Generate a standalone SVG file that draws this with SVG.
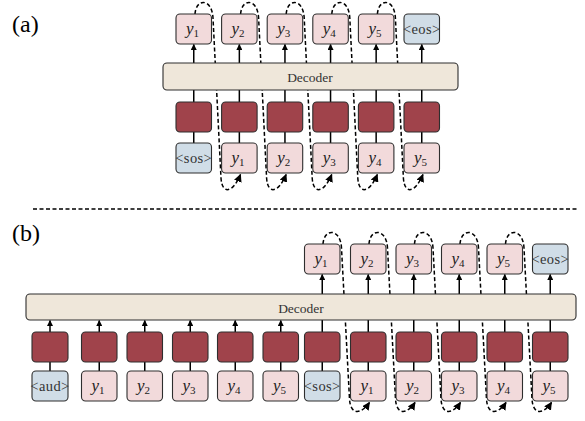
<svg xmlns="http://www.w3.org/2000/svg" width="585" height="421" viewBox="0 0 585 421">
<defs>
<style>
.bx{stroke:#2e2e2e;stroke-width:1.1}
.pk{fill:#f2dadb}
.bl{fill:#d0dde7}
.rd{fill:#a0434b}
.dec{fill:#efe7da;stroke:#2e2e2e;stroke-width:1.1}
.ln{stroke:#000;stroke-width:1.5;fill:none}
.ds{stroke:#000;stroke-width:1.5;fill:none;stroke-dasharray:4 2.5}
.t{font-family:"Liberation Serif","Times New Roman",serif;fill:#333}
.tk{font-family:"Liberation Serif","Times New Roman",serif;font-size:14.5px;letter-spacing:0.4px;fill:#333;text-anchor:middle}
.y{font-family:"Liberation Serif","Times New Roman",serif;font-size:17px;fill:#222;text-anchor:middle}
.lbl{font-family:"Liberation Serif","Times New Roman",serif;font-size:24px;fill:#000}
</style>
<marker id="ah" viewBox="0 0 10 10" refX="9" refY="5" markerWidth="6" markerHeight="6" markerUnits="userSpaceOnUse" orient="auto">
<path d="M0,0 L10,5 L0,10 z" fill="#000"/>
</marker>
<marker id="ah2" viewBox="0 0 10 10" refX="9" refY="5" markerWidth="8" markerHeight="8" markerUnits="userSpaceOnUse" orient="auto">
<path d="M0,0 L10,5 L0,10 z" fill="#000"/>
</marker>
</defs>

<text class="lbl" x="12" y="32">(a)</text>
<text class="lbl" x="12" y="241">(b)</text>
<line x1="33" y1="209" x2="578" y2="209" stroke="#000" stroke-width="1.5" stroke-dasharray="4 2.5"/>

<g id="connectors">
<g>
<line class="ln" x1="193.75" y1="63" x2="193.75" y2="44.5" marker-end="url(#ah)"/>
<line class="ln" x1="239.35" y1="63" x2="239.35" y2="44.5" marker-end="url(#ah)"/>
<line class="ln" x1="284.95" y1="63" x2="284.95" y2="44.5" marker-end="url(#ah)"/>
<line class="ln" x1="330.55" y1="63" x2="330.55" y2="44.5" marker-end="url(#ah)"/>
<line class="ln" x1="376.15" y1="63" x2="376.15" y2="44.5" marker-end="url(#ah)"/>
<line class="ln" x1="421.75" y1="63" x2="421.75" y2="44.5" marker-end="url(#ah)"/>
<path class="ln" d="M193.75,90V102M239.35,90V102M284.95,90V102M330.55,90V102M376.15,90V102M421.75,90V102"/>
<path class="ln" d="M193.75,132V143M239.35,132V143M284.95,132V143M330.55,132V143M376.15,132V143M421.75,132V143"/>
</g>
<g>
<path class="ds" d="M195,14 C196,-2 212,-2 213,18 L221,178 C222,195 233,193 240.5,174.5" marker-end="url(#ah2)"/>
<path class="ds" d="M240.6,14 C241.6,-2 257.6,-2 258.6,18 L266.6,178 C267.6,195 278.6,193 286.1,174.5" marker-end="url(#ah2)"/>
<path class="ds" d="M286.2,14 C287.2,-2 303.2,-2 304.2,18 L312.2,178 C313.2,195 324.2,193 331.7,174.5" marker-end="url(#ah2)"/>
<path class="ds" d="M331.8,14 C332.8,-2 348.8,-2 349.8,18 L357.8,178 C358.8,195 369.8,193 377.3,174.5" marker-end="url(#ah2)"/>
<path class="ds" d="M377.4,14 C378.4,-2 394.4,-2 395.4,18 L403.4,178 C404.4,195 415.4,193 422.9,174.5" marker-end="url(#ah2)"/>
</g>
<g>
<path class="ln" d="M50,362V371M99.25,362V371M144.75,362V371M190.25,362V371M235.25,362V371M280.75,362V371M322.25,362V371M368.25,362V371M413.75,362V371M459.25,362V371M504.75,362V371M550.25,362V371"/>
<line class="ln" x1="50" y1="332" x2="50" y2="320.5" marker-end="url(#ah)"/>
<line class="ln" x1="99.25" y1="332" x2="99.25" y2="320.5" marker-end="url(#ah)"/>
<line class="ln" x1="144.75" y1="332" x2="144.75" y2="320.5" marker-end="url(#ah)"/>
<line class="ln" x1="190.25" y1="332" x2="190.25" y2="320.5" marker-end="url(#ah)"/>
<line class="ln" x1="235.25" y1="332" x2="235.25" y2="320.5" marker-end="url(#ah)"/>
<line class="ln" x1="280.75" y1="332" x2="280.75" y2="320.5" marker-end="url(#ah)"/>
<path class="ln" d="M322.25,332V320M368.25,332V320M413.75,332V320M459.25,332V320M504.75,332V320M550.25,332V320"/>
<line class="ln" x1="322.25" y1="294" x2="322.25" y2="274.5" marker-end="url(#ah)"/>
<line class="ln" x1="368.25" y1="294" x2="368.25" y2="274.5" marker-end="url(#ah)"/>
<line class="ln" x1="413.75" y1="294" x2="413.75" y2="274.5" marker-end="url(#ah)"/>
<line class="ln" x1="459.25" y1="294" x2="459.25" y2="274.5" marker-end="url(#ah)"/>
<line class="ln" x1="504.75" y1="294" x2="504.75" y2="274.5" marker-end="url(#ah)"/>
<line class="ln" x1="550.25" y1="294" x2="550.25" y2="274.5" marker-end="url(#ah)"/>
</g>
<g>
<path class="ds" d="M323,244 C324,228 340.5,228 341.5,248 L349.5,399 C350.5,416 361.5,414 369.5,402.5" marker-end="url(#ah2)"/>
<path class="ds" d="M369,244 C370,228 386.5,228 387.5,248 L395.5,399 C396.5,416 407.5,414 415,402.5" marker-end="url(#ah2)"/>
<path class="ds" d="M414.5,244 C415.5,228 432,228 433,248 L441,399 C442,416 453,414 460.5,402.5" marker-end="url(#ah2)"/>
<path class="ds" d="M460,244 C461,228 477.5,228 478.5,248 L486.5,399 C487.5,416 498.5,414 506,402.5" marker-end="url(#ah2)"/>
<path class="ds" d="M505.5,244 C506.5,228 523,228 524,248 L532,399 C533,416 544,414 551.5,402.5" marker-end="url(#ah2)"/>
</g>
</g>

<g id="a-decoder"><rect class="dec" x="163" y="63" width="295" height="27" rx="4"/><text class="t" x="310" y="82" font-size="13.5" text-anchor="middle">Decoder</text></g>

<g id="a-out1"><rect class="bx pk" x="176" y="14" width="35.5" height="30" rx="4"/><text class="y" x="192.5" y="34"><tspan font-style="italic">y</tspan><tspan font-size="11" dy="3">1</tspan></text></g>
<g id="a-out2"><rect class="bx pk" x="221.6" y="14" width="35.5" height="30" rx="4"/><text class="y" x="238.1" y="34"><tspan font-style="italic">y</tspan><tspan font-size="11" dy="3">2</tspan></text></g>
<g id="a-out3"><rect class="bx pk" x="267.2" y="14" width="35.5" height="30" rx="4"/><text class="y" x="283.7" y="34"><tspan font-style="italic">y</tspan><tspan font-size="11" dy="3">3</tspan></text></g>
<g id="a-out4"><rect class="bx pk" x="312.8" y="14" width="35.5" height="30" rx="4"/><text class="y" x="329.3" y="34"><tspan font-style="italic">y</tspan><tspan font-size="11" dy="3">4</tspan></text></g>
<g id="a-out5"><rect class="bx pk" x="358.4" y="14" width="35.5" height="30" rx="4"/><text class="y" x="374.9" y="34"><tspan font-style="italic">y</tspan><tspan font-size="11" dy="3">5</tspan></text></g>
<g id="a-eos"><rect class="bx bl" x="404" y="14" width="35.5" height="30" rx="4"/><text class="tk" x="421.75" y="33.5">&lt;eos&gt;</text></g>

<g id="a-emb1"><rect class="bx rd" x="176" y="102" width="35.5" height="30" rx="4"/></g>
<g id="a-emb2"><rect class="bx rd" x="221.6" y="102" width="35.5" height="30" rx="4"/></g>
<g id="a-emb3"><rect class="bx rd" x="267.2" y="102" width="35.5" height="30" rx="4"/></g>
<g id="a-emb4"><rect class="bx rd" x="312.8" y="102" width="35.5" height="30" rx="4"/></g>
<g id="a-emb5"><rect class="bx rd" x="358.4" y="102" width="35.5" height="30" rx="4"/></g>
<g id="a-emb6"><rect class="bx rd" x="404" y="102" width="35.5" height="30" rx="4"/></g>

<g id="a-sos"><rect class="bx bl" x="176" y="143" width="35.5" height="30" rx="4"/><text class="tk" x="193.75" y="162.5">&lt;sos&gt;</text></g>
<g id="a-in1"><rect class="bx pk" x="221.6" y="143" width="35.5" height="30" rx="4"/><text class="y" x="238.1" y="163"><tspan font-style="italic">y</tspan><tspan font-size="11" dy="3">1</tspan></text></g>
<g id="a-in2"><rect class="bx pk" x="267.2" y="143" width="35.5" height="30" rx="4"/><text class="y" x="283.7" y="163"><tspan font-style="italic">y</tspan><tspan font-size="11" dy="3">2</tspan></text></g>
<g id="a-in3"><rect class="bx pk" x="312.8" y="143" width="35.5" height="30" rx="4"/><text class="y" x="329.3" y="163"><tspan font-style="italic">y</tspan><tspan font-size="11" dy="3">3</tspan></text></g>
<g id="a-in4"><rect class="bx pk" x="358.4" y="143" width="35.5" height="30" rx="4"/><text class="y" x="374.9" y="163"><tspan font-style="italic">y</tspan><tspan font-size="11" dy="3">4</tspan></text></g>
<g id="a-in5"><rect class="bx pk" x="404" y="143" width="35.5" height="30" rx="4"/><text class="y" x="420.5" y="163"><tspan font-style="italic">y</tspan><tspan font-size="11" dy="3">5</tspan></text></g>

<g id="b-decoder"><rect class="dec" x="26" y="294" width="550" height="26" rx="4"/><text class="t" x="301" y="312.5" font-size="13.5" text-anchor="middle">Decoder</text></g>

<g id="b-out1"><rect class="bx pk" x="304.5" y="244" width="35.5" height="30" rx="4"/><text class="y" x="321" y="264"><tspan font-style="italic">y</tspan><tspan font-size="11" dy="3">1</tspan></text></g>
<g id="b-out2"><rect class="bx pk" x="350.5" y="244" width="35.5" height="30" rx="4"/><text class="y" x="367" y="264"><tspan font-style="italic">y</tspan><tspan font-size="11" dy="3">2</tspan></text></g>
<g id="b-out3"><rect class="bx pk" x="396" y="244" width="35.5" height="30" rx="4"/><text class="y" x="412.5" y="264"><tspan font-style="italic">y</tspan><tspan font-size="11" dy="3">3</tspan></text></g>
<g id="b-out4"><rect class="bx pk" x="441.5" y="244" width="35.5" height="30" rx="4"/><text class="y" x="458" y="264"><tspan font-style="italic">y</tspan><tspan font-size="11" dy="3">4</tspan></text></g>
<g id="b-out5"><rect class="bx pk" x="487" y="244" width="35.5" height="30" rx="4"/><text class="y" x="503.5" y="264"><tspan font-style="italic">y</tspan><tspan font-size="11" dy="3">5</tspan></text></g>
<g id="b-eos"><rect class="bx bl" x="532.5" y="244" width="35.5" height="30" rx="4"/><text class="tk" x="550.25" y="263.5">&lt;eos&gt;</text></g>

<g id="b-emb0"><rect class="bx rd" x="32" y="332" width="36" height="30" rx="4"/></g>
<g id="b-emb1"><rect class="bx rd" x="81.5" y="332" width="35.5" height="30" rx="4"/></g>
<g id="b-emb2"><rect class="bx rd" x="127" y="332" width="35.5" height="30" rx="4"/></g>
<g id="b-emb3"><rect class="bx rd" x="172.5" y="332" width="35.5" height="30" rx="4"/></g>
<g id="b-emb4"><rect class="bx rd" x="217.5" y="332" width="35.5" height="30" rx="4"/></g>
<g id="b-emb5"><rect class="bx rd" x="263" y="332" width="35.5" height="30" rx="4"/></g>
<g id="b-emb6"><rect class="bx rd" x="304.5" y="332" width="35.5" height="30" rx="4"/></g>
<g id="b-emb7"><rect class="bx rd" x="350.5" y="332" width="35.5" height="30" rx="4"/></g>
<g id="b-emb8"><rect class="bx rd" x="396" y="332" width="35.5" height="30" rx="4"/></g>
<g id="b-emb9"><rect class="bx rd" x="441.5" y="332" width="35.5" height="30" rx="4"/></g>
<g id="b-emb10"><rect class="bx rd" x="487" y="332" width="35.5" height="30" rx="4"/></g>
<g id="b-emb11"><rect class="bx rd" x="532.5" y="332" width="35.5" height="30" rx="4"/></g>

<g id="b-aud"><rect class="bx bl" x="32" y="371" width="36" height="30" rx="4"/><text class="tk" x="50" y="390.5">&lt;aud&gt;</text></g>
<g id="b-p1"><rect class="bx pk" x="81.5" y="371" width="35.5" height="30" rx="4"/><text class="y" x="98" y="391"><tspan font-style="italic">y</tspan><tspan font-size="11" dy="3">1</tspan></text></g>
<g id="b-p2"><rect class="bx pk" x="127" y="371" width="35.5" height="30" rx="4"/><text class="y" x="143.5" y="391"><tspan font-style="italic">y</tspan><tspan font-size="11" dy="3">2</tspan></text></g>
<g id="b-p3"><rect class="bx pk" x="172.5" y="371" width="35.5" height="30" rx="4"/><text class="y" x="189" y="391"><tspan font-style="italic">y</tspan><tspan font-size="11" dy="3">3</tspan></text></g>
<g id="b-p4"><rect class="bx pk" x="217.5" y="371" width="35.5" height="30" rx="4"/><text class="y" x="234" y="391"><tspan font-style="italic">y</tspan><tspan font-size="11" dy="3">4</tspan></text></g>
<g id="b-p5"><rect class="bx pk" x="263" y="371" width="35.5" height="30" rx="4"/><text class="y" x="279.5" y="391"><tspan font-style="italic">y</tspan><tspan font-size="11" dy="3">5</tspan></text></g>
<g id="b-sos"><rect class="bx bl" x="304.5" y="371" width="35.5" height="30" rx="4"/><text class="tk" x="322.25" y="390.5">&lt;sos&gt;</text></g>
<g id="b-in1"><rect class="bx pk" x="350.5" y="371" width="35.5" height="30" rx="4"/><text class="y" x="367" y="391"><tspan font-style="italic">y</tspan><tspan font-size="11" dy="3">1</tspan></text></g>
<g id="b-in2"><rect class="bx pk" x="396" y="371" width="35.5" height="30" rx="4"/><text class="y" x="412.5" y="391"><tspan font-style="italic">y</tspan><tspan font-size="11" dy="3">2</tspan></text></g>
<g id="b-in3"><rect class="bx pk" x="441.5" y="371" width="35.5" height="30" rx="4"/><text class="y" x="458" y="391"><tspan font-style="italic">y</tspan><tspan font-size="11" dy="3">3</tspan></text></g>
<g id="b-in4"><rect class="bx pk" x="487" y="371" width="35.5" height="30" rx="4"/><text class="y" x="503.5" y="391"><tspan font-style="italic">y</tspan><tspan font-size="11" dy="3">4</tspan></text></g>
<g id="b-in5"><rect class="bx pk" x="532.5" y="371" width="35.5" height="30" rx="4"/><text class="y" x="549" y="391"><tspan font-style="italic">y</tspan><tspan font-size="11" dy="3">5</tspan></text></g>
</svg>
